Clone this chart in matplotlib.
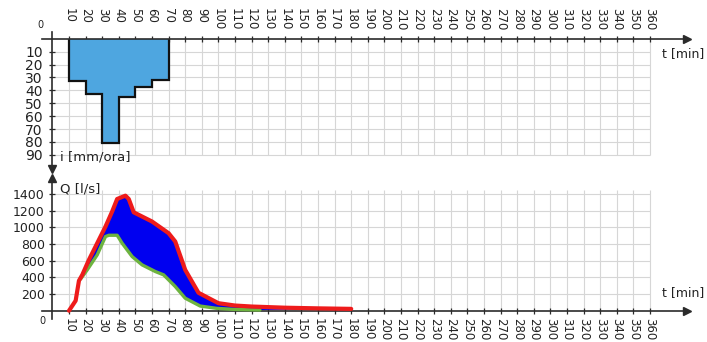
#!/usr/bin/python
# -*- coding: utf-8 -*-

'''
Usage: python plot.py

Hyetograph (top) and the resulting hydrographs (bottom), sharing one time axis.
'''
import numpy as np
import matplotlib
matplotlib.use('Agg')
from matplotlib import pyplot as plt

# rain blocks of 10 minutes, intensity in mm/ora
rainEdges = [10, 20, 30, 40, 50, 60, 70]
rainIntensity = [33, 43, 81, 45, 37, 32]

# upper hydrograph (red)
redTime = [10, 14, 16, 18, 22, 28, 32, 36, 39, 44, 46, 49, 60, 70, 74, 80, 88, 100, 110, 120, 140, 160, 180]
redFlow = [0, 120, 360, 430, 610, 850, 1010, 1190, 1340, 1380, 1340, 1180, 1070, 930, 830, 490, 215, 90, 62, 50, 36, 28, 22]

# lower hydrograph (green)
greenTime = [17, 21, 27, 32, 34, 39, 42, 48, 54, 62, 67, 74, 80, 89, 99, 110, 125]
greenFlow = [380, 490, 670, 890, 905, 905, 810, 650, 550, 470, 430, 290, 150, 56, 28, 15, 8]

timeTicks = list(range(10, 361, 10))
rainTicks = list(range(10, 91, 10))
flowTicks = list(range(200, 1401, 200))

# pixel geometry of the reference
W, H = 707.0, 342.0
X0, SX = 52.4, 1.66          # pixel of t=0, pixels per minute
TOP0, TOPS = 38.8, 1.29      # pixel of i=0, pixels per mm/ora
BOT0, BOTS = 310.7, 0.08336  # pixel of Q=0, pixels per l/s
XMIN, XMAX = -6, 382

GRID = '#d6d6d6'
AXC = '#2b2b2b'


def makeAxes(fig, yLow, yHigh, zeroPix, scale, inverted):
  ''' Places an axes so that the data units land on the reference pixels. '''
  left = (X0 + XMIN * SX) / W
  width = (XMAX - XMIN) * SX / W
  if inverted:
    topPix = zeroPix + yLow * scale
    bottomPix = zeroPix + yHigh * scale
  else:
    topPix = zeroPix - yHigh * scale
    bottomPix = zeroPix - yLow * scale
  ax = fig.add_axes([left, (H - bottomPix) / H, width, (bottomPix - topPix) / H])
  ax.set_xlim(XMIN, XMAX)
  if inverted:
    ax.set_ylim(yHigh, yLow)
  else:
    ax.set_ylim(yLow, yHigh)
  ax.patch.set_alpha(0)
  ax.spines['right'].set_visible(False)
  return ax


def styleAxisLines(ax, xSpine):
  for side in ('top', 'bottom'):
    if side != xSpine:
      ax.spines[side].set_visible(False)
  ax.spines[xSpine].set_position(('data', 0))
  ax.spines['left'].set_position(('data', 0))
  for side in (xSpine, 'left'):
    ax.spines[side].set_color(AXC)
    ax.spines[side].set_linewidth(1.2)
  ax.tick_params(direction='inout', length=4, width=0.9, color=AXC, labelcolor='#222222')
  # arrow at the end of the time axis
  ax.plot(1, 0, '>', color=AXC, markersize=6, transform=ax.get_yaxis_transform(), clip_on=False)


fig = plt.figure(figsize=(W / 100, H / 100), dpi=100)

# ---------------- hyetograph ----------------
top = makeAxes(fig, -5, 101, TOP0, TOPS, inverted=True)
styleAxisLines(top, 'top')
top.xaxis.set_ticks_position('top')
top.set_xticks(timeTicks)
top.set_xticklabels([str(t) for t in timeTicks], rotation=270, va='top', fontsize=8.5)
top.tick_params(axis='x', pad=20.5)
top.set_yticks(rainTicks)
top.set_yticklabels([str(v) for v in rainTicks], fontsize=10)
top.tick_params(axis='y', pad=5)
top.vlines(timeTicks, 0, 90, color=GRID, lw=0.8, zorder=0)
top.hlines(rainTicks, 0, 360, color=GRID, lw=0.8, zorder=0)
top.stairs(rainIntensity, rainEdges, baseline=0, fill=True, facecolor='#4ea6e0',
           edgecolor='#111111', lw=1.6, zorder=2)
# downward arrow of the intensity axis
top.plot(0, 0, 'v', color=AXC, markersize=6, transform=top.get_xaxis_transform(), clip_on=False)
top.text(4.5, 91.5, 'i [mm/ora]', fontsize=9.5, va='center', ha='left', color='#222222')
top.text(367.5, 11.8, 't [min]', fontsize=9, va='center', ha='left', color='#222222')
top.text(-7.5, -10.7, '0', fontsize=7, va='center', ha='center', color='#222222')

# ---------------- hydrographs ----------------
bot = makeAxes(fig, -100, 1590, BOT0, BOTS, inverted=False)
styleAxisLines(bot, 'bottom')
bot.set_xticks(timeTicks)
bot.set_xticklabels([str(t) for t in timeTicks], rotation=270, va='top', fontsize=8.5)
bot.tick_params(axis='x', pad=3.5)
bot.set_yticks(flowTicks)
bot.set_yticklabels([str(v) for v in flowTicks], fontsize=9)
bot.tick_params(axis='y', pad=3.5)
bot.vlines(timeTicks, 0, 1450, color=GRID, lw=0.8, zorder=0)
bot.hlines(flowTicks, 0, 360, color=GRID, lw=0.8, zorder=0)

# area between the two hydrographs
redTimeArr = np.array(redTime)
redFlowArr = np.array(redFlow)
keep = redTimeArr >= greenTime[0]
polyT = np.r_[greenTime[0], redTimeArr[keep], greenTime[::-1]]
polyQ = np.r_[greenFlow[0], redFlowArr[keep], greenFlow[::-1]]
bot.fill(polyT, polyQ, color='#0000f0', lw=0, zorder=2)
bot.plot(greenTime, greenFlow, color='#6db33f', lw=2.4, zorder=3, solid_capstyle='round')
bot.plot(redTime, redFlow, color='#ee1b1b', lw=3.0, zorder=4, solid_capstyle='round')

# upward arrow of the flow axis
bot.plot(0, 1, '^', color=AXC, markersize=6, transform=bot.get_xaxis_transform(), clip_on=False)
bot.text(4.5, 1460, 'Q [l/s]', fontsize=9.5, va='center', ha='left', color='#222222')
bot.text(367.5, 212, 't [min]', fontsize=9, va='center', ha='left', color='#222222')
bot.text(-6.3, -124, '0', fontsize=7, va='center', ha='center', color='#222222')

fig.savefig('out.png', dpi=100)
